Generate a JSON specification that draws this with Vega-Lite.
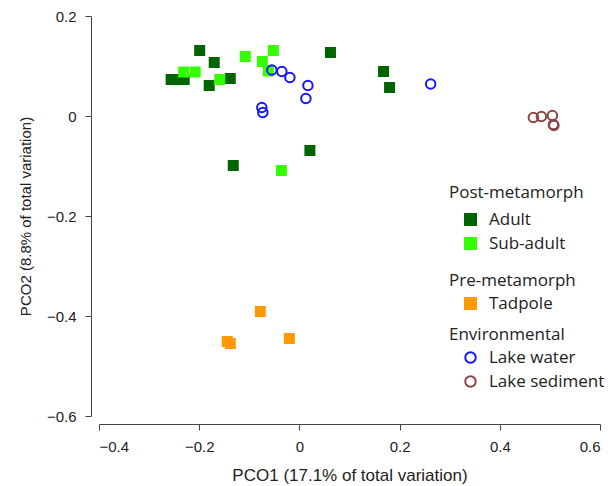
{
  "$schema": "https://vega.github.io/schema/vega-lite/v6.json",
  "width": 501,
  "height": 400,
  "autosize": "none",
  "padding": {"left": 99, "top": 16, "right": 14, "bottom": 70},
  "background": "white",
  "config": {
    "view": {"stroke": null},
    "axis": {
      "grid": false,
      "domainColor": "#444444",
      "tickColor": "#444444",
      "labelFont": "Liberation Sans",
      "titleFont": "Liberation Sans",
      "labelFontSize": 15,
      "titleFontSize": 17,
      "titleFontWeight": "normal",
      "labelColor": "#222222",
      "titleColor": "#222222",
      "tickSize": 6,
      "offset": 8
    },
    "legend": {
      "orient": "none",
      "titleFont": "Open Sans",
      "labelFont": "Open Sans",
      "titleFontSize": 17,
      "labelFontSize": 17,
      "titleFontWeight": "normal",
      "titleColor": "#222222",
      "labelColor": "#222222",
      "symbolOffset": 13,
      "labelOffset": 10,
      "rowPadding": 6,
      "titlePadding": 9
    }
  },
  "data": {
    "values": [
      {"x": -0.199, "y": 0.131, "group": "Post-metamorph", "type": "Adult"},
      {"x": -0.170, "y": 0.107, "group": "Post-metamorph", "type": "Adult"},
      {"x": -0.256, "y": 0.073, "group": "Post-metamorph", "type": "Adult"},
      {"x": -0.243, "y": 0.073, "group": "Post-metamorph", "type": "Adult"},
      {"x": -0.230, "y": 0.073, "group": "Post-metamorph", "type": "Adult"},
      {"x": -0.180, "y": 0.061, "group": "Post-metamorph", "type": "Adult"},
      {"x": -0.138, "y": 0.075, "group": "Post-metamorph", "type": "Adult"},
      {"x": 0.062, "y": 0.127, "group": "Post-metamorph", "type": "Adult"},
      {"x": 0.168, "y": 0.089, "group": "Post-metamorph", "type": "Adult"},
      {"x": 0.180, "y": 0.057, "group": "Post-metamorph", "type": "Adult"},
      {"x": 0.021, "y": -0.069, "group": "Post-metamorph", "type": "Adult"},
      {"x": -0.132, "y": -0.099, "group": "Post-metamorph", "type": "Adult"},
      {"x": -0.231, "y": 0.088, "group": "Post-metamorph", "type": "Sub-adult"},
      {"x": -0.208, "y": 0.088, "group": "Post-metamorph", "type": "Sub-adult"},
      {"x": -0.159, "y": 0.073, "group": "Post-metamorph", "type": "Sub-adult"},
      {"x": -0.108, "y": 0.119, "group": "Post-metamorph", "type": "Sub-adult"},
      {"x": -0.074, "y": 0.109, "group": "Post-metamorph", "type": "Sub-adult"},
      {"x": -0.052, "y": 0.131, "group": "Post-metamorph", "type": "Sub-adult"},
      {"x": -0.062, "y": 0.090, "group": "Post-metamorph", "type": "Sub-adult"},
      {"x": -0.036, "y": -0.109, "group": "Post-metamorph", "type": "Sub-adult"},
      {"x": -0.078, "y": -0.391, "group": "Pre-metamorph", "type": "Tadpole"},
      {"x": -0.144, "y": -0.451, "group": "Pre-metamorph", "type": "Tadpole"},
      {"x": -0.138, "y": -0.455, "group": "Pre-metamorph", "type": "Tadpole"},
      {"x": -0.020, "y": -0.445, "group": "Pre-metamorph", "type": "Tadpole"},
      {"x": -0.055, "y": 0.092, "group": "Environmental", "type": "Lake water"},
      {"x": -0.035, "y": 0.089, "group": "Environmental", "type": "Lake water"},
      {"x": -0.019, "y": 0.077, "group": "Environmental", "type": "Lake water"},
      {"x": 0.017, "y": 0.061, "group": "Environmental", "type": "Lake water"},
      {"x": 0.013, "y": 0.035, "group": "Environmental", "type": "Lake water"},
      {"x": -0.075, "y": 0.017, "group": "Environmental", "type": "Lake water"},
      {"x": -0.073, "y": 0.007, "group": "Environmental", "type": "Lake water"},
      {"x": 0.262, "y": 0.064, "group": "Environmental", "type": "Lake water"},
      {"x": 0.467, "y": -0.003, "group": "Environmental", "type": "Lake sediment"},
      {"x": 0.483, "y": -0.001, "group": "Environmental", "type": "Lake sediment"},
      {"x": 0.505, "y": 0.001, "group": "Environmental", "type": "Lake sediment"},
      {"x": 0.507, "y": -0.017, "group": "Environmental", "type": "Lake sediment"},
      {"x": 0.508, "y": -0.019, "group": "Environmental", "type": "Lake sediment"}
    ]
  },
  "encoding": {
    "x": {
      "field": "x", "type": "quantitative",
      "scale": {"domain": [-0.4, 0.6], "nice": false, "zero": false},
      "axis": {"values": [-0.4, -0.2, 0, 0.2, 0.4, 0.6], "format": ".1~f", "labelExpr": "replace(datum.label, '-', '−')", "title": "PCO1 (17.1% of total variation)", "titlePadding": 13, "labelPadding": 9}
    },
    "y": {
      "field": "y", "type": "quantitative",
      "scale": {"domain": [-0.6, 0.2], "nice": false, "zero": false},
      "axis": {"values": [-0.6, -0.4, -0.2, 0, 0.2], "format": ".1~f", "labelExpr": "replace(datum.label, '-', '−')", "title": "PCO2 (8.8% of total variation)", "titleFontSize": 15, "titlePadding": 13, "labelPadding": 9}
    }
  },
  "layer": [
    {
      "transform": [{"filter": "datum.group === 'Post-metamorph'"}],
      "mark": {"type": "point", "shape": "square", "filled": true, "opacity": 1, "size": 121},
      "encoding": {
        "color": {
          "field": "type", "type": "nominal",
          "scale": {"domain": ["Adult", "Sub-adult"], "range": ["#006400", "#33ff00"]},
          "legend": {"title": "Post-metamorph", "legendX": 350, "legendY": 169, "symbolSize": 169}
        }
      }
    },
    {
      "transform": [{"filter": "datum.group === 'Pre-metamorph'"}],
      "mark": {"type": "point", "shape": "square", "filled": true, "opacity": 1, "size": 121},
      "encoding": {
        "color": {
          "field": "type", "type": "nominal",
          "scale": {"domain": ["Tadpole"], "range": ["#ff9900"]},
          "legend": {"title": "Pre-metamorph", "legendX": 350, "legendY": 257, "titlePadding": 5, "symbolSize": 169}
        }
      }
    },
    {
      "transform": [{"filter": "datum.group === 'Environmental'"}],
      "mark": {"type": "point", "shape": "circle", "filled": false, "opacity": 1, "size": 90, "strokeWidth": 2},
      "encoding": {
        "color": {
          "field": "type", "type": "nominal",
          "scale": {"domain": ["Lake water", "Lake sediment"], "range": ["#1414ff", "#8a4444"]},
          "legend": {"title": "Environmental", "legendX": 350, "legendY": 311, "titlePadding": 5, "rowPadding": 5, "symbolSize": 110, "symbolStrokeWidth": 2}
        }
      }
    }
  ],
  "resolve": {"scale": {"color": "independent"}, "legend": {"color": "independent"}}
}
